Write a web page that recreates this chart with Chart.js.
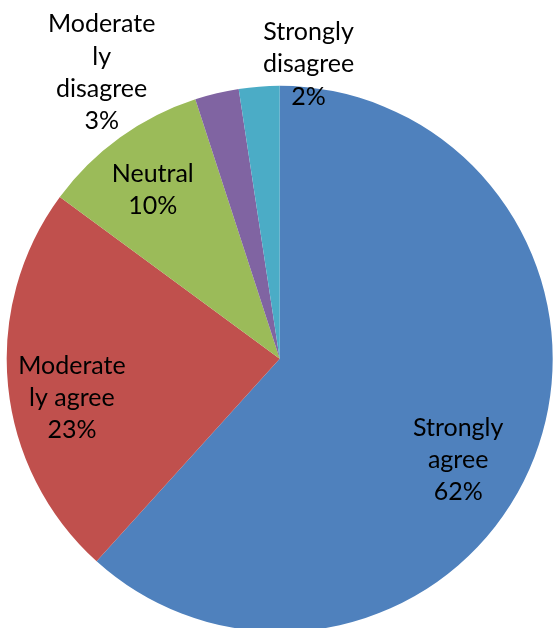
<!DOCTYPE html>
<html>
<head>
<meta charset="utf-8">
<script src="https://cdn.jsdelivr.net/npm/chart.js@4.4.1/dist/chart.umd.min.js"></script>
<style>
    html, body { margin: 0; padding: 0; background: #fff; overflow: hidden; }
    #wrap { position: relative; width: 553px; height: 632px; }
</style>
</head>
<body>
<div id="wrap"><canvas id="chart"></canvas></div>
<script>
// categories, wrapped the way the original labels wrap
const categories = [
    ['Strongly', 'agree'],
    ['Moderate', 'ly agree'],
    ['Neutral'],
    ['Moderate', 'ly', 'disagree'],
    ['Strongly', 'disagree'],
];

// share of responses, percent
const shares = [61.7, 23.4, 9.9, 2.6, 2.4];

const colors = ['#4F81BD', '#C0504D', '#9BBB59', '#8064A2', '#4BACC6'];

// where each label sits: shift from slice mid-angle (deg) and distance as a fraction of radius
const labelPlacement = [
    { shift: 8.3, dist: 0.75 },
    { shift: -4.7, dist: 0.774 },
    { shift: -1.0, dist: 0.776 },
    { shift: -18.5, dist: 1.237 },
    { shift: 9.9, dist: 1.087 },
];

const labelFont = '25px Lato';
const lineHeight = 32.3;
const capHeight = 17.5;

const sliceLabels = {
    id: 'sliceLabels',
    afterDatasetsDraw(chart) {
        const { ctx } = chart;
        const meta = chart.getDatasetMeta(0);
        const total = shares.reduce((a, b) => a + b, 0);

        ctx.save();
        ctx.font = labelFont;
        ctx.fillStyle = '#000';
        ctx.textAlign = 'center';
        ctx.textBaseline = 'alphabetic';

        meta.data.forEach((arc, i) => {
            const place = labelPlacement[i];
            const mid = (arc.startAngle + arc.endAngle) / 2 + place.shift * Math.PI / 180;
            const r = arc.outerRadius * place.dist;
            const cx = arc.x + Math.cos(mid) * r;
            const cy = arc.y + Math.sin(mid) * r;

            const lines = [...categories[i], Math.round(shares[i] / total * 100) + '%'];
            const blockHeight = capHeight + (lines.length - 1) * lineHeight;
            let y = cy - blockHeight / 2 + capHeight;
            lines.forEach((line) => {
                ctx.fillText(line, cx, y);
                y += lineHeight;
            });
        });
        ctx.restore();
    },
};

new Chart(document.getElementById('chart').getContext('2d'), {
    type: 'pie',
    data: {
        labels: categories,
        datasets: [{
            data: shares,
            backgroundColor: colors,
            borderWidth: 0,
            hoverOffset: 0,
        }],
    },
    options: {
        responsive: true,
        maintainAspectRatio: false,
        animation: false,
        layout: {
            padding: { left: 6.7, right: 0.3, top: 85.7, bottom: 0 },
        },
        plugins: {
            legend: { display: false },
            tooltip: { enabled: false },
        },
    },
    plugins: [sliceLabels],
});
</script>
</body>
</html>
